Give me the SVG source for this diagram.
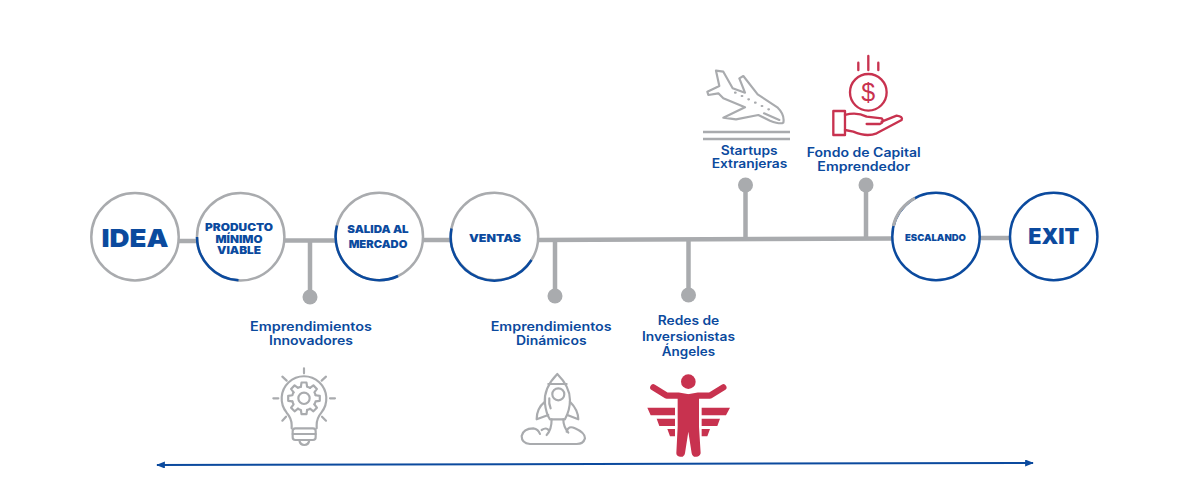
<svg xmlns="http://www.w3.org/2000/svg" width="1200" height="490" viewBox="0 0 1200 490">
<style>
text{font-family:"Inter","Noto Sans","Liberation Sans",sans-serif;fill:#0b4a9e;text-anchor:middle}
.lb{font-size:12.500px;font-weight:600}
.st{font-size:10.500px;font-weight:900}
.bg{font-weight:900}
.ln{fill:none;stroke:#a9abae;stroke-width:4.500}
.ci{fill:#fff;stroke:#a9abae;stroke-width:2.500}
.arc{fill:none;stroke:#0b4a9e;stroke-width:2.500}
.dot{fill:#a9abae}
.gi{fill:none;stroke:#a9abae;stroke-width:6.500;stroke-linecap:round;stroke-linejoin:round}
.ri{fill:none;stroke:#c8324f;stroke-width:7;stroke-linecap:round;stroke-linejoin:round}
.rf{fill:#c8324f}
</style>
<defs>
<marker id="ah" viewBox="0 0 10 8" refX="9" refY="4" markerWidth="9" markerHeight="7" markerUnits="userSpaceOnUse" orient="auto-start-reverse"><path d="M0 0L10 4L0 8Z" fill="#0b4a9e"/></marker>
<path id="tooth" d="M-9.300 -34.800L-7.500 -47.400L7.500 -47.400L9.300 -34.800A36 36 0 0 1 18 -31.200"/>
</defs>
<g id="connectors">
<path class="ln" d="M176 241H198"/>
<path class="ln" d="M283 240.500H337"/>
<path class="ln" d="M422 240H452"/>
<path class="ln" d="M537 240L894 238.500"/>
<path class="ln" d="M978 238H1011"/>
<path class="ln" d="M310 240V297"/>
<path class="ln" d="M555 240V296"/>
<path class="ln" d="M688.500 239V295"/>
<path class="ln" d="M745.500 238V185"/>
<path class="ln" d="M866 238V185"/>
<path d="M157 465L1033 463" fill="none" stroke="#0b4a9e" stroke-width="2" marker-start="url(#ah)" marker-end="url(#ah)"/>
</g>
<g id="idea"><circle class="ci" cx="135" cy="236.700" r="43.700"/><text class="bg" x="135" y="246.700" font-size="25" textLength="67" lengthAdjust="spacingAndGlyphs">IDEA</text></g>
<g id="producto"><circle class="ci" cx="240.700" cy="236.700" r="43.700"/><path class="arc" d="M197 237A43.700 43.700 0 0 0 238.500 280.300"/>
<text class="st" x="239" y="231" textLength="68" lengthAdjust="spacingAndGlyphs">PRODUCTO</text><text class="st" x="239" y="242.700" textLength="47" lengthAdjust="spacingAndGlyphs">MÍNIMO</text><text class="st" x="239" y="253.700" textLength="44" lengthAdjust="spacingAndGlyphs">VIABLE</text></g>
<g id="salida"><circle class="ci" cx="379.300" cy="236.500" r="43.700"/><path class="arc" d="M337 225.500A43.700 43.700 0 0 0 398 276"/>
<text class="st" x="378" y="232.700" textLength="61.300" lengthAdjust="spacingAndGlyphs">SALIDA AL</text><text class="st" x="378" y="247.700" textLength="58.700" lengthAdjust="spacingAndGlyphs">MERCADO</text></g>
<g id="ventas"><circle class="ci" cx="494.500" cy="236.500" r="43.700"/><path class="arc" d="M451.500 228.500A43.700 43.700 0 0 0 531.500 260"/>
<text class="st" x="495" y="242.300" textLength="52" lengthAdjust="spacingAndGlyphs">VENTAS</text></g>
<g id="escalando"><circle class="ci" cx="936" cy="236.500" r="43.700" style="stroke:#0b4a9e"/><path d="M915 198.200A43.700 43.700 0 0 0 893.300 226" fill="none" stroke="#a9abae" stroke-width="3.200"/>
<text class="st" style="font-size:9.500px" x="935.500" y="241" textLength="61" lengthAdjust="spacingAndGlyphs">ESCALANDO</text></g>
<g id="exit"><circle class="ci" cx="1053.700" cy="236.500" r="43.700" style="stroke:#0b4a9e"/><text class="bg" x="1053.800" y="243.500" font-size="21" textLength="51" lengthAdjust="spacingAndGlyphs">EXIT</text></g>
<g id="emprendimientos-innovadores">
<circle class="dot" cx="310" cy="297" r="7.500"/>
<text class="lb" x="311" y="331" textLength="122" lengthAdjust="spacingAndGlyphs">Emprendimientos</text><text class="lb" x="311" y="344.500" textLength="84" lengthAdjust="spacingAndGlyphs">Innovadores</text>
<g class="gi" transform="translate(250 360) scale(.3333)">
<path d="M162 25V40M70 115H85M240 115H255M97 50L110 62M228 50L215 62M97 182L108 170M228 182L216 170"/>
<path d="M125 205V195Q125 175 110 158A67 67 0 1 1 214 158Q200 175 200 195V205"/>
<rect x="128" y="205" width="69" height="35" rx="8"/><path d="M128 222H197M148 240Q150 255 163 255Q176 255 178 240"/>
<circle cx="162" cy="115" r="17"/>
<g transform="translate(162 115)"><use href="#tooth"/><use href="#tooth" transform="rotate(45)"/><use href="#tooth" transform="rotate(90)"/><use href="#tooth" transform="rotate(135)"/><use href="#tooth" transform="rotate(180)"/><use href="#tooth" transform="rotate(225)"/><use href="#tooth" transform="rotate(270)"/><use href="#tooth" transform="rotate(315)"/></g>
</g></g>
<g id="emprendimientos-dinamicos">
<circle class="dot" cx="555" cy="296" r="7.500"/>
<text class="lb" x="551.200" y="331" textLength="121" lengthAdjust="spacingAndGlyphs">Emprendimientos</text><text class="lb" x="551.300" y="344.500" textLength="70.700" lengthAdjust="spacingAndGlyphs">Dinámicos</text>
<g class="gi" transform="translate(250 360) scale(.3333)">
<path d="M922 42Q880 85 885 130Q888 160 900 178H945Q960 150 960 120Q960 80 922 42ZM895 72H950"/>
<circle cx="925" cy="103" r="18"/><path d="M898 115Q896 130 902 145"/>
<path d="M885 125Q860 145 860 178L895 165M960 125Q985 150 985 178L952 165"/>
<path d="M905 178Q905 210 890 225M940 178Q940 200 955 218"/>
<path d="M840 252Q815 250 815 228Q820 205 850 205Q865 207 870 222M875 210Q890 200 897 212M950 215Q955 195 975 205Q1005 218 1005 235Q1000 252 980 252H840"/>
</g></g>
<g id="redes-angeles">
<circle class="dot" cx="688.500" cy="295" r="7.500"/>
<text class="lb" x="688.500" y="325" textLength="61.600" lengthAdjust="spacingAndGlyphs">Redes de</text><text class="lb" x="688.500" y="340.500" textLength="93" lengthAdjust="spacingAndGlyphs">Inversionistas</text><text class="lb" x="688.400" y="355.500" textLength="53.300" lengthAdjust="spacingAndGlyphs">Ángeles</text>
<g transform="translate(630 360) scale(.3333)">
<circle class="rf" cx="175" cy="65" r="22"/>
<path d="M70 82L110 107H145L175 112L205 107H240L280 82" fill="none" stroke="#c8324f" stroke-width="19" stroke-linecap="round" stroke-linejoin="round"/>
<path class="rf" d="M143 100L175 114L207 100V200L212 280Q209 290 199 290H192Q186 288 185 280L175 215L165 280Q164 288 158 290H150Q139 288 139 280L143 200Z"/>
<path class="rf" d="M52 143H135V166H62ZM80 176H135V198H88ZM112 207H135V229H120ZM215 143H300L288 166H215ZM215 176H270L262 198H215ZM215 207H240L232 229H215Z"/>
</g></g>
<g id="startups-extranjeras">
<circle class="dot" cx="745.500" cy="185" r="7.500"/>
<text class="lb" x="749.200" y="155" textLength="57" lengthAdjust="spacingAndGlyphs">Startups</text><text class="lb" x="749.500" y="168.300" textLength="75.700" lengthAdjust="spacingAndGlyphs">Extranjeras</text>
<g class="gi" transform="translate(690 50) scale(.3333)">
<path d="M78 62L100 65L128 115L165 128L148 85L160 78L203 133L262 172Q285 195 280 218Q272 224 240 212L205 195L138 208L100 203L165 172L100 145L85 130L55 135L52 125L88 108Z"/>
<path d="M135 128H137M155 138H157M175 148H177M195 158H197M215 168H217M235 178H237M222 190L268 210"/>
</g>
<path d="M703 132H790M703 139H790" fill="none" stroke="#a9abae" stroke-width="2.500"/>
</g>
<g id="fondo-capital">
<circle class="dot" cx="866" cy="185" r="7.500"/>
<text class="lb" x="863.700" y="157.300" textLength="114" lengthAdjust="spacingAndGlyphs">Fondo de Capital</text><text class="lb" x="863.700" y="171" textLength="92.700" lengthAdjust="spacingAndGlyphs">Emprendedor</text>
<g class="ri" transform="translate(690 50) scale(.3333)">
<circle cx="535" cy="127" r="55"/>
<path d="M505 38V60M535 18V60M565 38V60"/>
<rect x="430" y="183" width="35" height="72"/>
<path d="M465 195Q500 185 530 200L575 205Q585 215 570 222H530M575 215L620 197Q640 200 635 210L560 250Q530 262 490 245L465 240"/>
</g>
<text x="868.300" y="100.500" font-size="25" style="fill:#c8324f;font-family:'Liberation Sans',sans-serif">$</text>
</g>
</svg>
